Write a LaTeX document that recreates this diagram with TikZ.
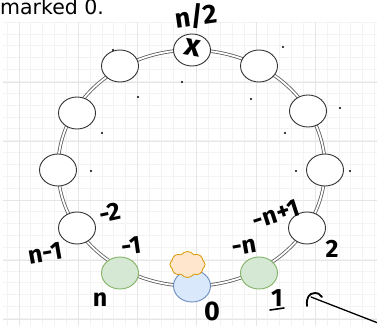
\documentclass[tikz,border=0pt]{standalone}
\usepackage{fontspec}
\setmainfont{DejaVu Sans}
\newfontfamily\handfont{Fira Sans}
\usetikzlibrary{shapes.geometric,shapes.symbols}
\definecolor{gridminor}{HTML}{F3F3F3}
\definecolor{gridmajor}{HTML}{E6E6E6}
\definecolor{greenfill}{HTML}{D5E8D4}
\definecolor{greenline}{HTML}{82B366}
\definecolor{bluefill}{HTML}{DAE8FC}
\definecolor{blueline}{HTML}{6C8EBF}
\definecolor{orangefill}{HTML}{FFE6CC}
\definecolor{orangeline}{HTML}{D79B00}
\definecolor{ringline}{HTML}{5A5A5A}
\tikzset{
  slot/.style={ellipse, draw=black!80, line width=0.9pt, fill=white, minimum width=37pt, minimum height=32pt, inner sep=0pt},
  greenslot/.style={slot, draw=greenline, fill=greenfill},
  blueslot/.style={slot, draw=blueline, fill=bluefill},
  ring/.style={draw=ringline, line width=0.8pt, double=white, double distance=1.8pt},
  hand/.style={font=\handfont\bfseries\fontsize{25}{25}\selectfont, inner sep=0pt},
  dotmark/.style={circle, fill=black, inner sep=0pt, minimum size=2.4pt},
  stroke/.style={line width=1.8pt, line cap=round, line join=round}
}
\begin{document}
\begin{tikzpicture}[x=1pt,y=-1pt]
\useasboundingbox (0,0) rectangle (377,326);
\fill[white] (0,0) rectangle (377,326);
% grid
\foreach \i in {0,...,31} {
  \draw[gridminor, line width=0.5pt] ({7+\i*11.85},22) -- ({7+\i*11.85},326);
}
\foreach \j in {0,...,26} {
  \draw[gridminor, line width=0.5pt] (3,{22+\j*11.85}) -- (377,{22+\j*11.85});
}
\foreach \i in {0,...,5} {
  \draw[gridmajor, line width=0.5pt] ({315-\i*59.25},22) -- ({315-\i*59.25},326);
}
\foreach \j in {0,...,4} {
  \draw[gridmajor, line width=0.5pt] (3,{82+\j*59.25}) -- (377,{82+\j*59.25});
}
% title text
\node[anchor=base west, inner sep=0pt, font=\fontsize{20.5}{20.5}\selectfont] (title) at (0,15) {marked 0.};
% ring
\coordinate (ctr) at (191.5,168);
\draw[ring] (ctr) ellipse [x radius=133.5pt, y radius=118pt];
% slots
\node[slot] (top) at (192,50) {};
\node[slot] (tr) at (259,66) {};
\node[slot] (rr) at (308,111) {};
\node[slot] (r) at (325,170) {};
\node[slot] (br) at (307,228) {};
\node[greenslot] (gr) at (259,273) {};
\node[blueslot] (bot) at (192,286) {};
\node[greenslot] (gl) at (120,273) {};
\node[slot] (bl) at (77,228) {};
\node[slot] (l) at (58,170) {};
\node[slot] (ll) at (77,113) {};
\node[slot] (tl) at (120,66) {};
% cloud
\node[cloud, cloud puffs=8, cloud puff arc=110, aspect=1.4, draw=orangeline, fill=orangefill, line width=0.8pt, minimum width=35pt, minimum height=26pt, inner sep=0pt] (cloudn) at (187.5,264.5) {};
% x in top node
\node[hand, font=\handfont\bfseries\fontsize{31}{31}\selectfont, rotate=-10] (xmark) at (193,48) {x};
% dots
\foreach \p in {(113,50),(283,47),(182,82),(138,97),(251,99),(340,108),(102,133),(91,171),(285,133),(296,171),(350,171)} {
  \node[dotmark] at \p {};
}
% labels
\node[hand, font=\handfont\bfseries\fontsize{27}{27}\selectfont, rotate=8] (lnh) at (196,16) {n/2};
\node[hand, rotate=12] (lm2) at (110,213) {-2};
\node[hand, rotate=10] (ln1) at (45,253) {n-1};
\node[hand, rotate=8] (lm1) at (131,246) {-1};
\node[hand] (ln) at (100,300) {n};
\node[hand, font=\handfont\bfseries\fontsize{27}{27}\selectfont] (l0) at (212,311) {0};
\node[hand, rotate=10] (lmn) at (244,247) {-n};
\node[hand, rotate=18] (lmn1) at (276,214) {-n+1};
\node[hand] (l2) at (332,249) {2};
\node[hand] (l1) at (277,298) {1};
\coordinate (u1) at (270,310);
\coordinate (u2) at (284,308);
\draw[line width=1.6pt, line cap=round] (u1) -- (u2);
% arrow
\coordinate (atail) at (378,323);
\coordinate (ahead) at (311,297);
\draw[line width=1.3pt, line cap=round] (atail) -- (ahead);
\coordinate (h1) at (307,306);
\coordinate (h2) at (315,293);
\coordinate (h3) at (322,297);
\draw[stroke] (h1) .. controls (306,298) and (309,293) .. (h2) .. controls (318,293) .. (h3);
\end{tikzpicture}
\end{document}
